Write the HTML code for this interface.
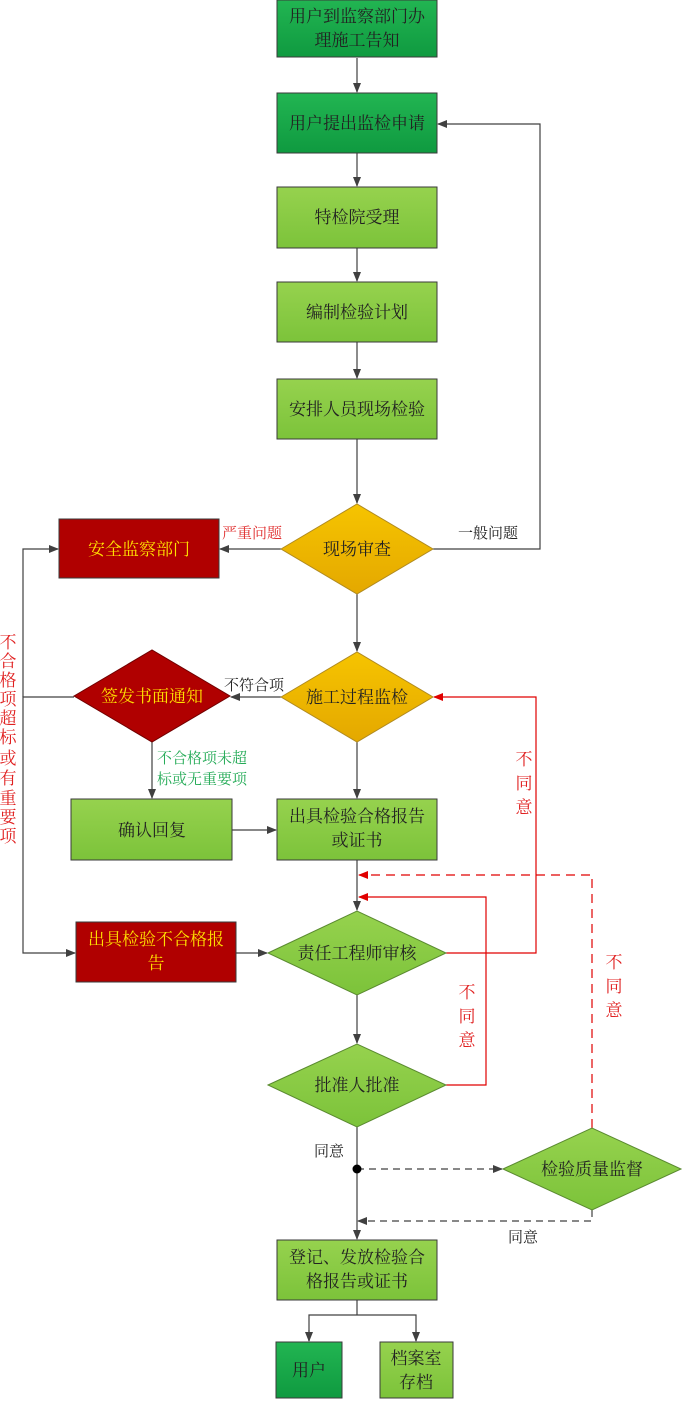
<!DOCTYPE html>
<html><head><meta charset="utf-8"><style>
html,body{margin:0;padding:0;background:#fff;width:684px;height:1402px;overflow:hidden}
text{font-family:"Liberation Serif","Noto Serif CJK SC",serif}
</style></head><body>
<svg width="684" height="1402" viewBox="0 0 684 1402" xmlns="http://www.w3.org/2000/svg">
<defs>
<linearGradient id="dg" x1="0" y1="0" x2="0" y2="1"><stop offset="0" stop-color="#22b552"/><stop offset="1" stop-color="#0f9a40"/></linearGradient>
<linearGradient id="lg" x1="0" y1="0" x2="0" y2="1"><stop offset="0" stop-color="#96d24e"/><stop offset="1" stop-color="#7cc33a"/></linearGradient>
<linearGradient id="og" x1="0" y1="0" x2="0" y2="1"><stop offset="0" stop-color="#f6c400"/><stop offset="1" stop-color="#e4a800"/></linearGradient>
<marker id="a" markerWidth="10" markerHeight="8" refX="9" refY="4" orient="auto" markerUnits="userSpaceOnUse"><path d="M0,0 L10,4 L0,8 Z" fill="#404040"/></marker>
<marker id="r" markerWidth="10" markerHeight="8" refX="9" refY="4" orient="auto" markerUnits="userSpaceOnUse"><path d="M0,0 L10,4 L0,8 Z" fill="#e00000"/></marker>
</defs>
<g stroke="#404040" stroke-width="1.2" fill="none">
<line x1="357" y1="58" x2="357" y2="92" marker-end="url(#a)"/>
<line x1="357" y1="153" x2="357" y2="186" marker-end="url(#a)"/>
<line x1="357" y1="248" x2="357" y2="281" marker-end="url(#a)"/>
<line x1="357" y1="342" x2="357" y2="378" marker-end="url(#a)"/>
<line x1="357" y1="439" x2="357" y2="503" marker-end="url(#a)"/>
<polyline points="433,549 540,549 540,124 438,124" marker-end="url(#a)"/>
<line x1="281" y1="549" x2="220" y2="549" marker-end="url(#a)"/>
<line x1="357" y1="594" x2="357" y2="651" marker-end="url(#a)"/>
<line x1="281" y1="697" x2="231" y2="697" marker-end="url(#a)"/>
<polyline points="74,697 23,697 23,953 75,953" marker-end="url(#a)"/>
<polyline points="23,697 23,549 58,549" marker-end="url(#a)"/>
<line x1="152" y1="742" x2="152" y2="798" marker-end="url(#a)"/>
<line x1="232" y1="830" x2="276" y2="830" marker-end="url(#a)"/>
<line x1="357" y1="742" x2="357" y2="798" marker-end="url(#a)"/>
<line x1="357" y1="860" x2="357" y2="910" marker-end="url(#a)"/>
<line x1="236" y1="953" x2="267" y2="953" marker-end="url(#a)"/>
<line x1="357" y1="995" x2="357" y2="1043" marker-end="url(#a)"/>
<line x1="357" y1="1127" x2="357" y2="1239" marker-end="url(#a)"/>
<line x1="357" y1="1169" x2="502" y2="1169" stroke-dasharray="7,5" marker-end="url(#a)"/>
<polyline points="592,1210 592,1221 358,1221" stroke-dasharray="7,5" marker-end="url(#a)"/>
<line x1="357" y1="1300" x2="357" y2="1315"/>
<polyline points="309,1341 309,1315 416,1315 416,1341"/>
<line x1="309" y1="1330" x2="309" y2="1341" marker-end="url(#a)"/>
<line x1="416" y1="1330" x2="416" y2="1341" marker-end="url(#a)"/>
</g>
<circle cx="357" cy="1169" r="4.5" fill="#000"/>
<g stroke="#e00000" stroke-width="1.2" fill="none">
<polyline points="446,953 536,953 536,697 434,697" marker-end="url(#r)"/>
<polyline points="446,1085 486,1085 486,897 359,897" marker-end="url(#r)"/>
<polyline points="592,1128 592,875 359,875" stroke-dasharray="9,6" marker-end="url(#r)"/>
</g>
<g stroke="#3a3a3a" stroke-width="1">
<rect x="277" y="0" width="160" height="57" fill="url(#dg)"/>
<rect x="277" y="93" width="160" height="60" fill="url(#dg)"/>
<rect x="277" y="187" width="160" height="61" fill="url(#lg)"/>
<rect x="277" y="282" width="160" height="60" fill="url(#lg)"/>
<rect x="277" y="379" width="160" height="60" fill="url(#lg)"/>
<polygon points="281,549 357,504 433,549 357,594" fill="url(#og)" stroke="#b08a20"/>
<rect x="59" y="519" width="160" height="59" fill="#b00000"/>
<polygon points="281,697 357,652 433,697 357,742" fill="url(#og)" stroke="#b08a20"/>
<polygon points="74,696 152,650 230,696 152,742" fill="#b00000" stroke="#700000"/>
<rect x="71" y="799" width="161" height="61" fill="url(#lg)"/>
<rect x="277" y="799" width="160" height="61" fill="url(#lg)"/>
<rect x="76" y="922" width="160" height="60" fill="#b00000"/>
<polygon points="268,953 357,911 446,953 357,995" fill="url(#lg)" stroke="#5a8a30"/>
<polygon points="268,1085 357,1044 446,1085 357,1127" fill="url(#lg)" stroke="#5a8a30"/>
<polygon points="503,1169 592,1128 681,1169 592,1210" fill="url(#lg)" stroke="#5a8a30"/>
<rect x="277" y="1240" width="160" height="60" fill="url(#lg)"/>
<rect x="276" y="1342" width="66" height="56" fill="url(#dg)"/>
<rect x="380" y="1342" width="73" height="56" fill="url(#lg)"/>
</g>
<g font-size="17" fill="#222" text-anchor="middle">
<text x="357" y="22">用户到监察部门办</text>
<text x="357" y="46">理施工告知</text>
<text x="357" y="129">用户提出监检申请</text>
<text x="357" y="223">特检院受理</text>
<text x="357" y="318">编制检验计划</text>
<text x="357" y="415">安排人员现场检验</text>
<text x="357" y="555">现场审查</text>
<text x="357" y="703">施工过程监检</text>
<text x="152" y="836">确认回复</text>
<text x="357" y="822">出具检验合格报告</text>
<text x="357" y="846">或证书</text>
<text x="357" y="959">责任工程师审核</text>
<text x="357" y="1091">批准人批准</text>
<text x="592" y="1175">检验质量监督</text>
<text x="357" y="1263">登记、发放检验合</text>
<text x="357" y="1287">格报告或证书</text>
<text x="309" y="1376">用户</text>
<text x="416" y="1364">档案室</text>
<text x="416" y="1388">存档</text>
</g>
<g font-size="17" fill="#ffe000" text-anchor="middle">
<text x="139" y="555">安全监察部门</text>
<text x="152" y="702">签发书面通知</text>
<text x="156" y="945">出具检验不合格报</text>
<text x="156" y="969">告</text>
</g>
<g font-size="15" fill="#222">
<text x="458" y="538">一般问题</text>
<text x="224" y="690">不符合项</text>
<text x="314" y="1156">同意</text>
<text x="508" y="1242">同意</text>
</g>
<text x="222" y="538" font-size="15" fill="#e03030">严重问题</text>
<g font-size="15" fill="#22aa55">
<text x="157" y="763">不合格项未超</text>
<text x="157" y="784">标或无重要项</text>
</g>
<g font-size="17" fill="#e02020" text-anchor="middle">
<text x="8" y="648">不</text><text x="8" y="667">合</text><text x="8" y="686">格</text><text x="8" y="705">项</text><text x="8" y="724">超</text><text x="8" y="743">标</text><text x="8" y="764">或</text><text x="8" y="784">有</text><text x="8" y="804">重</text><text x="8" y="823">要</text><text x="8" y="842">项</text>
<text x="524" y="765">不</text><text x="524" y="789">同</text><text x="524" y="813">意</text>
<text x="467" y="998">不</text><text x="467" y="1022">同</text><text x="467" y="1046">意</text>
<text x="614" y="968">不</text><text x="614" y="992">同</text><text x="614" y="1016">意</text>
</g>
</svg>
</body></html>
